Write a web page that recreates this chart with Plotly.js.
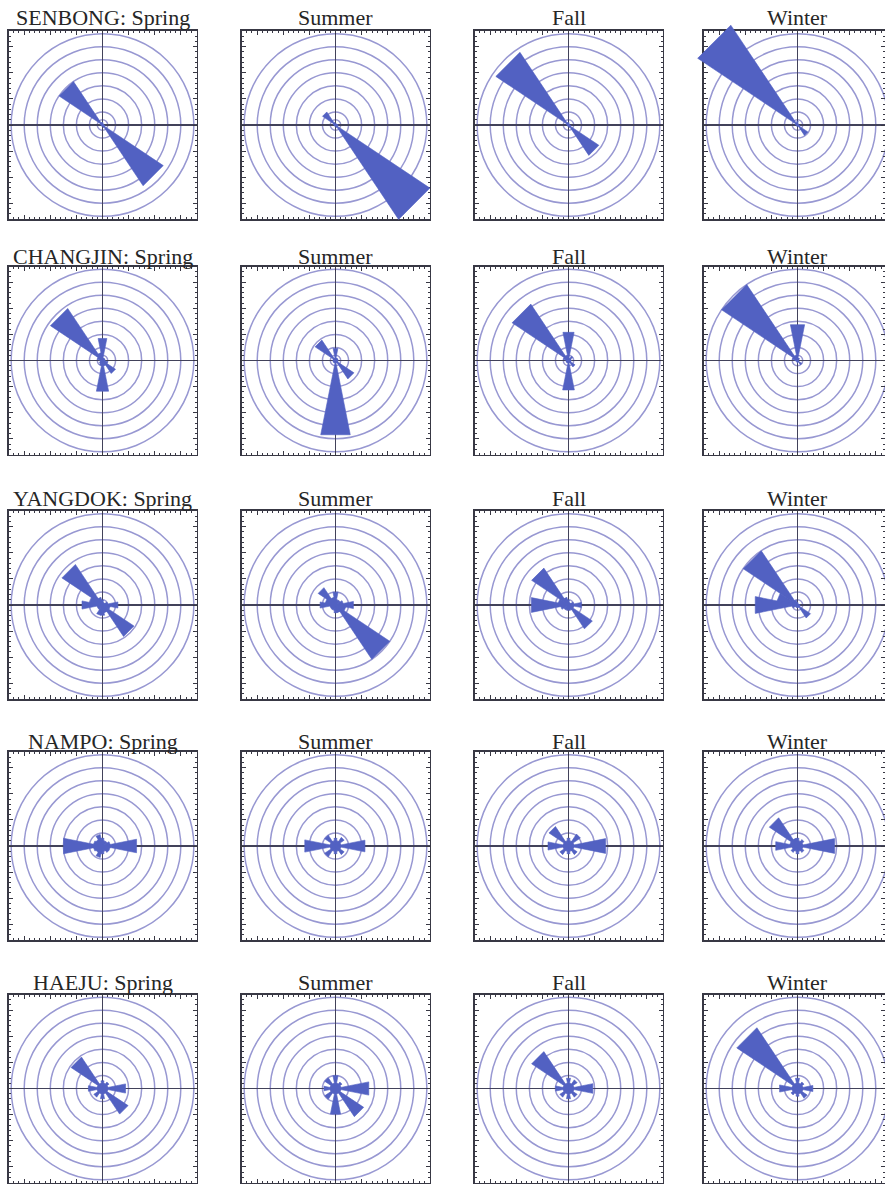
<!DOCTYPE html>
<html><head><meta charset="utf-8">
<script src="https://cdn.plot.ly/plotly-3.0.1.min.js"></script>
<style>html,body{margin:0;padding:0;background:#fff;overflow:hidden}</style>
</head><body><div id="chart" style="width:885px;height:1185px"></div>
<script>
// ---------------- DATA ----------------
const stations = ['SENBONG', 'CHANGJIN', 'YANGDOK', 'NAMPO', 'HAEJU'];
const seasons = ['Spring', 'Summer', 'Fall', 'Winter'];
const directions = ['N','NNE','NE','ENE','E','ESE','SE','SSE','S','SSW','SW','WSW','W','WNW','NW','NNW'];
const ringLevels = [0.02, 0.05, 0.10, 0.15, 0.20, 0.25, 0.30, 0.35];

// relative frequency per direction (N, NNE, ... NNW)
const senbongSpring  = [0.010,0.005,0.005,0.005,0.005,0.010,0.280,0.010,0.005,0.005,0.005,0.005,0.005,0.010,0.200,0.010];
const senbongSummer  = [0.005,0.005,0.005,0.005,0.010,0.010,0.435,0.010,0.005,0.005,0.005,0.005,0.005,0.010,0.060,0.010];
const senbongFall    = [0.010,0.005,0.005,0.005,0.005,0.010,0.140,0.010,0.005,0.005,0.005,0.005,0.005,0.010,0.335,0.010];
const senbongWinter  = [0.015,0.005,0.005,0.005,0.005,0.010,0.048,0.005,0.005,0.005,0.005,0.005,0.005,0.010,0.460,0.010];

const changjinSpring = [0.086,0.010,0.010,0.010,0.010,0.020,0.060,0.020,0.120,0.020,0.015,0.010,0.010,0.020,0.240,0.030];
const changjinSummer = [0.047,0.010,0.010,0.010,0.010,0.010,0.085,0.010,0.290,0.010,0.010,0.010,0.010,0.010,0.094,0.010];
const changjinFall   = [0.110,0.010,0.020,0.010,0.010,0.010,0.030,0.010,0.115,0.010,0.010,0.010,0.010,0.020,0.260,0.020];
const changjinWinter = [0.140,0.010,0.010,0.005,0.005,0.005,0.020,0.005,0.010,0.005,0.005,0.005,0.010,0.020,0.350,0.020];

const yangdokSpring  = [0.020,0.010,0.010,0.020,0.060,0.030,0.145,0.030,0.040,0.040,0.020,0.020,0.080,0.050,0.187,0.030];
const yangdokSummer  = [0.050,0.020,0.020,0.030,0.070,0.040,0.250,0.030,0.030,0.020,0.020,0.020,0.060,0.040,0.080,0.030];
const yangdokFall    = [0.020,0.010,0.010,0.020,0.050,0.020,0.110,0.020,0.020,0.020,0.020,0.030,0.145,0.040,0.170,0.030];
const yangdokWinter  = [0.010,0.005,0.005,0.005,0.010,0.010,0.060,0.010,0.010,0.010,0.010,0.020,0.165,0.080,0.250,0.020];

const nampoSpring    = [0.030,0.020,0.020,0.030,0.133,0.030,0.030,0.020,0.030,0.045,0.030,0.035,0.152,0.035,0.030,0.045];
const nampoSummer    = [0.030,0.020,0.040,0.020,0.115,0.020,0.040,0.020,0.030,0.020,0.050,0.020,0.120,0.020,0.050,0.020];
const nampoFall      = [0.030,0.020,0.055,0.020,0.145,0.020,0.040,0.020,0.030,0.020,0.040,0.020,0.080,0.020,0.090,0.020];
const nampoWinter    = [0.030,0.020,0.030,0.020,0.145,0.020,0.030,0.020,0.030,0.020,0.030,0.020,0.085,0.030,0.130,0.030];

const haejuSpring    = [0.030,0.020,0.030,0.020,0.090,0.020,0.118,0.020,0.040,0.020,0.040,0.020,0.055,0.020,0.145,0.020];
const haejuSummer    = [0.050,0.020,0.030,0.020,0.130,0.020,0.130,0.020,0.100,0.020,0.050,0.020,0.045,0.020,0.050,0.020];
const haejuFall      = [0.040,0.020,0.040,0.020,0.095,0.020,0.040,0.020,0.040,0.020,0.040,0.020,0.050,0.020,0.170,0.020];
const haejuWinter    = [0.040,0.020,0.030,0.020,0.060,0.020,0.045,0.020,0.030,0.020,0.030,0.020,0.070,0.020,0.280,0.020];

const panelData = [
  [senbongSpring, senbongSummer, senbongFall, senbongWinter],
  [changjinSpring, changjinSummer, changjinFall, changjinWinter],
  [yangdokSpring, yangdokSummer, yangdokFall, yangdokWinter],
  [nampoSpring, nampoSummer, nampoFall, nampoWinter],
  [haejuSpring, haejuSummer, haejuFall, haejuWinter]
];

// ---------------- LAYOUT ----------------
const W = 885, H = 1185;
const colCenters = [102.5, 335.5, 568.5, 797.5];
const rowCenters = [125, 360.5, 605, 846, 1088.5];
const titleCenters = [17, 256, 498, 741, 982];
const half = 94;          // half frame size in px
const ppu = 261;          // px per data unit
const ext = 24;           // extra room for wedges that overflow the frame

const frameColor = '#383844';
const crossColor = '#42425a';
const ringColor = '#9898d2';
const wedgeColor = '#5261c2';

const layout = {
  width: W, height: H,
  margin: {l: 0, r: 0, t: 0, b: 0},
  paper_bgcolor: '#ffffff',
  plot_bgcolor: 'rgba(0,0,0,0)',
  showlegend: false,
  shapes: [],
  annotations: []
};
const traces = [];

function axKey(prefix, n) { return n === 1 ? prefix + 'axis' : prefix + 'axis' + n; }

function wedgePath(vals) {
  const x = [], y = [];
  const h = 11.25 * Math.PI / 180;
  vals.forEach((v, k) => {
    const c = (90 - k * 22.5) * Math.PI / 180;
    x.push(0, v * Math.cos(c - h), v * Math.cos(c + h));
    y.push(0, v * Math.sin(c - h), v * Math.sin(c + h));
  });
  x.push(0); y.push(0);
  return {x, y};
}

stations.forEach((st, r) => {
  seasons.forEach((se, c) => {
    const idx = r * 4 + c;
    const n = idx + 1, m = idx + 21;
    const cx = colCenters[c], cy = rowCenters[r];

    // main (frame) axes
    const xl = cx - half, xr = Math.min(W, cx + half);
    const yt = cy - half, yb = Math.min(H, cy + half);
    const common = {
      showline: true, linecolor: frameColor, linewidth: 1.6, mirror: 'ticks',
      ticks: 'inside', ticklen: 4, tickwidth: 1, tickcolor: frameColor,
      tick0: 0, dtick: 0.1, showticklabels: false, showgrid: false,
      zeroline: true, zerolinecolor: crossColor, zerolinewidth: 1.8,
      minor: {ticks: 'inside', ticklen: 2, tickwidth: 1, tickcolor: frameColor, tick0: 0, dtick: 0.02, showgrid: false},
      fixedrange: true
    };
    layout[axKey('x', n)] = Object.assign({}, common, {
      domain: [xl / W, xr / W],
      range: [(xl - cx) / ppu, (xr - cx) / ppu],
      anchor: 'y' + n
    });
    layout[axKey('y', n)] = Object.assign({}, common, {
      domain: [1 - yb / H, 1 - yt / H],
      range: [(cy - yb) / ppu, (cy - yt) / ppu],
      anchor: 'x' + n
    });

    // overlay axes for wedges (same scale, larger area, invisible)
    const oxl = Math.max(0, cx - half - ext), oxr = Math.min(W, cx + half + ext);
    const oyt = Math.max(0, cy - half - ext), oyb = Math.min(H, cy + half + ext);
    layout[axKey('x', m)] = {
      visible: false, fixedrange: true, anchor: 'y' + m,
      domain: [oxl / W, oxr / W], range: [(oxl - cx) / ppu, (oxr - cx) / ppu]
    };
    layout[axKey('y', m)] = {
      visible: false, fixedrange: true, anchor: 'x' + m,
      domain: [1 - oyb / H, 1 - oyt / H], range: [(cy - oyb) / ppu, (cy - oyt) / ppu]
    };

    // rings
    ringLevels.forEach(rv => {
      layout.shapes.push({
        type: 'circle', xref: 'x' + n, yref: 'y' + n, layer: 'below',
        x0: -rv, x1: rv, y0: -rv, y1: rv,
        line: {color: ringColor, width: 1.5}
      });
    });

    // wedges
    const p = wedgePath(panelData[r][c]);
    traces.push({
      type: 'scatter', mode: 'lines', x: p.x, y: p.y,
      fill: 'toself', fillcolor: wedgeColor,
      line: {color: wedgeColor, width: 0.6},
      xaxis: 'x' + m, yaxis: 'y' + m,
      hoverinfo: 'skip', showlegend: false
    });

    // title
    layout.annotations.push({
      text: c === 0 ? st + ': ' + se : se,
      xref: 'paper', yref: 'paper',
      x: cx / W, y: 1 - titleCenters[r] / H,
      xanchor: 'center', yanchor: 'middle', showarrow: false,
      font: {family: '"Liberation Serif", "Times New Roman", serif', size: 22, color: '#262626'}
    });
  });
});

Plotly.newPlot('chart', traces, layout, {staticPlot: true, displayModeBar: false});
</script>
</body></html>
